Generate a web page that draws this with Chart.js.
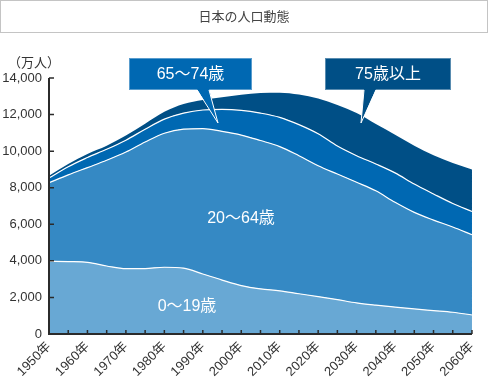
<!DOCTYPE html>
<html><head><meta charset="utf-8">
<script src="https://cdn.jsdelivr.net/npm/chart.js@4"></script>
<style>html,body{margin:0;padding:0;background:#fff;}#wrap{width:488px;height:384px;position:relative;}</style>
</head><body><div id="wrap"><canvas id="c" width="488" height="384"></canvas></div>
<script>
const years = [1950,1955,1960,1965,1970,1975,1980,1985,1990,1995,2000,2005,2010,2015,2020,2025,2030,2035,2040,2045,2050,2055,2060];
const tickLabels = years.map(y => (y % 10 === 0 ? y + '年' : ''));
const age0_19  = [3980,3960,3920,3720,3570,3580,3650,3600,3280,2950,2650,2470,2360,2200,2045,1880,1700,1575,1470,1370,1280,1190,1040];
const age20_64 = [4290,4740,5180,5780,6380,6920,7330,7600,7950,8130,8230,8110,7890,7550,7155,6870,6600,6255,5730,5280,4950,4660,4390];
const age65_74 = [260,450,550,600,650,700,770,880,1020,1200,1350,1500,1600,1700,1750,1530,1450,1470,1610,1550,1430,1290,1270];
const age75up  = [120,150,200,200,250,300,400,500,550,670,850,1100,1350,1650,1930,2250,2330,2180,2090,2100,2120,2210,2290];
const yTicks = [0,2000,4000,6000,8000,10000,12000,14000];
const seriesNames = ['0〜19歳','20〜64歳','65〜74歳','75歳以上'];
const colors = ['#68A8D4','#3589C4','#0068B2','#004F86'];
const FONT = "'Liberation Sans','Noto Sans CJK JP',sans-serif";

const decor = {
  id: 'decor',
  afterDatasetsDraw(chart) {
    const ctx = chart.ctx, xs = chart.scales.x, ys = chart.scales.y, a = chart.chartArea;
    ctx.save();
    ctx.strokeStyle = '#2b2b2b';
    ctx.lineWidth = 2;
    ctx.beginPath();
    ctx.moveTo(a.left, ys.getPixelForValue(14000));
    ctx.lineTo(a.left, a.bottom);
    ctx.lineTo(a.right, a.bottom);
    ctx.stroke();
    ctx.lineWidth = 1.5;
    ctx.beginPath();
    yTicks.forEach(v => { if (v === 0) return; const y = ys.getPixelForValue(v); ctx.moveTo(a.left, y); ctx.lineTo(a.left + 5, y); });
    years.forEach((yr, i) => { if (i === 0) return; const x = xs.getPixelForValue(i); ctx.moveTo(x, a.bottom); ctx.lineTo(x, a.bottom - 4); });
    ctx.stroke();

    ctx.fillStyle = '#fff';
    ctx.font = '16px ' + FONT;
    ctx.textAlign = 'center'; ctx.textBaseline = 'middle';
    ctx.fillText(seriesNames[1], 241, 219);
    ctx.fillText(seriesNames[0], 187, 307);

    function callout(x, y, w, h, color, text, base1, base2, tip) {
      ctx.fillStyle = color;
      ctx.fillRect(x, y, w, h);
      ctx.strokeStyle = 'rgba(255,255,255,0.35)';
      ctx.lineWidth = 1;
      ctx.strokeRect(x + 0.5, y + 0.5, w - 1, h - 1);
      ctx.beginPath();
      ctx.moveTo(base1, y + h - 1);
      ctx.lineTo(tip[0], tip[1]);
      ctx.lineTo(base2, y + h - 1);
      ctx.closePath();
      ctx.fill();
      ctx.strokeStyle = '#fff';
      ctx.beginPath();
      ctx.moveTo(base1, y + h);
      ctx.lineTo(tip[0], tip[1]);
      ctx.lineTo(base2, y + h);
      ctx.stroke();
      ctx.fillStyle = color;
      ctx.fillRect(base1 + 1, y + h - 2, base2 - base1 - 2, 3);
      ctx.fillStyle = '#fff';
      ctx.font = '16px ' + FONT;
      ctx.textAlign = 'center'; ctx.textBaseline = 'middle';
      ctx.fillText(text, x + w / 2, y + h / 2 + 1);
    }
    callout(129, 58, 123, 32, colors[2], seriesNames[2], 197, 209, [218, 123]);
    callout(325, 58, 126, 32, colors[3], seriesNames[3], 364, 376, [361, 123]);

    ctx.strokeStyle = '#c4c4c4';
    ctx.lineWidth = 1;
    ctx.strokeRect(0.5, 0.5, 487, 32);
    ctx.fillStyle = '#444';
    ctx.font = '13px ' + FONT;
    ctx.fillText('日本の人口動態', 244, 17);

    ctx.fillStyle = '#333';
    ctx.font = '13px ' + FONT;
    ctx.fillText('（万人）', 34, 63);
    ctx.restore();
  }
};

const datasets = [age0_19, age20_64, age65_74, age75up].map((d, i) => ({
  label: seriesNames[i],
  data: d,
  backgroundColor: colors[i],
  borderColor: i < 3 ? '#ffffff' : colors[i],
  borderWidth: i < 3 ? 1.2 : 0,
  fill: i === 0 ? 'origin' : '-1',
  pointRadius: 0,
  cubicInterpolationMode: 'monotone'
}));

new Chart(document.getElementById('c'), {
  type: 'line',
  data: { labels: tickLabels, datasets },
  plugins: [decor],
  options: {
    responsive: false,
    animation: false,
    devicePixelRatio: 1,
    layout: { padding: { top: 78, right: 2, left: 0, bottom: 0 } },
    plugins: { legend: { display: false }, tooltip: { enabled: false } },
    scales: {
      x: {
        offset: false,
        grid: { display: false, drawTicks: false },
        border: { display: false },
        ticks: { autoSkip: false, maxRotation: 45, minRotation: 45, padding: 5, color: '#333', font: { size: 13, family: FONT } },
        afterFit: s => { s.height = 50; }
      },
      y: {
        stacked: true,
        min: 0, max: 14000,
        grid: { display: false, drawTicks: false },
        border: { display: false },
        ticks: { stepSize: 2000, padding: 7, color: '#333', font: { size: 13, family: FONT },
          callback: v => v.toLocaleString('en-US') },
        afterFit: s => { s.width = 49; }
      }
    }
  }
});
</script></body></html>
